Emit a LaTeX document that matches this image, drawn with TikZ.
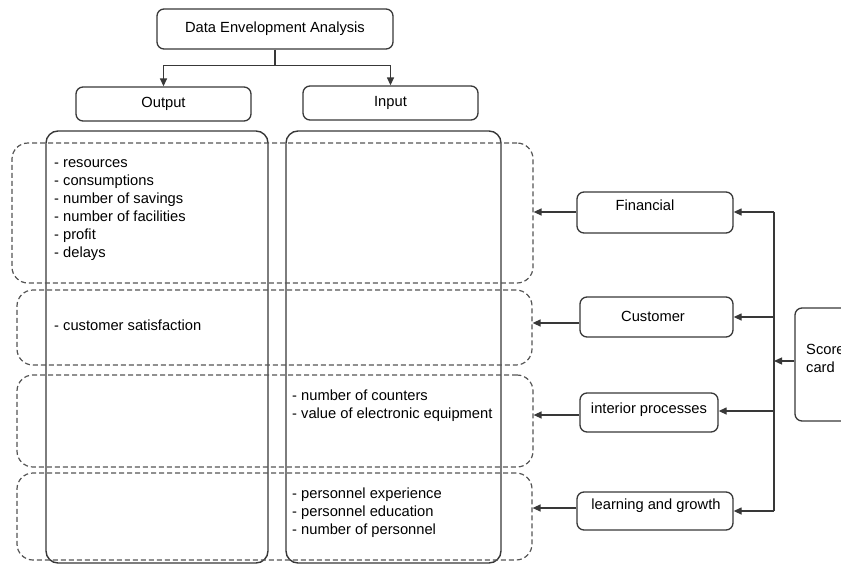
\documentclass[tikz,border=0pt]{standalone}
\usepackage{fontspec}
\setmainfont{Liberation Sans}
\usetikzlibrary{arrows.meta}
\definecolor{linec}{HTML}{383838}
\definecolor{dashc}{HTML}{555555}
\begin{document}
\begin{tikzpicture}[x=1pt,y=-1pt,
  box/.style={draw=linec, line width=1.3pt, rounded corners=7pt, inner sep=0pt},
  col/.style={draw=linec, line width=1.4pt, rounded corners=12pt, inner sep=0pt},
  rowbox/.style={draw=dashc, line width=1.2pt, dash pattern=on 5pt off 3pt, rounded corners=16pt, inner sep=0pt},
  lbl/.style={font=\fontsize{14.7}{18}\selectfont, inner sep=0pt},
  lst/.style={lbl, align=left, anchor=base west},
  conn/.style={draw=linec, line width=1.3pt},
  arr/.style={conn, -{Triangle[length=8pt,width=7pt]}}
]
\useasboundingbox (0,0) rectangle (841,565);

% header boxes
\node[box, minimum width=236pt, minimum height=40pt, lbl] (dea) at (275,29) {Data Envelopment Analysis};
\node[box, minimum width=175pt, minimum height=34pt, lbl] (out) at (163.5,104) {Output};
\node[box, minimum width=175pt, minimum height=34pt, lbl] (inp) at (390.5,103) {Input};

\draw[conn] (dea.south) -- ++(0,16) coordinate (split);
\draw[arr] (split) -| (out.north);
\draw[arr] (split) -| (inp.north);

% output / input columns
\node[col, minimum width=222pt, minimum height=432pt] (outcol) at (157,347) {};
\node[col, minimum width=215pt, minimum height=432pt] (incol) at (393.5,347) {};

% perspective rows
\node[rowbox, minimum width=521pt, minimum height=140pt] (row1) at (272.5,213) {};
\node[rowbox, minimum width=515pt, minimum height=75pt] (row2) at (274.5,327.5) {};
\node[rowbox, minimum width=516pt, minimum height=92pt] (row3) at (275,421) {};
\node[rowbox, minimum width=515pt, minimum height=87pt] (row4) at (274.5,516.5) {};

% indicator lists (anchored at the baseline of their last line)
\node[lst] (l1) at (54,257) {- resources\\- consumptions\\- number of savings\\- number of facilities\\- profit\\- delays};
\node[lst] (l2) at (54,330) {- customer satisfaction};
\node[lst] (l3) at (292,418) {- number of counters\\- value of electronic equipment};
\node[lst] (l4) at (292,534) {- personnel experience\\- personnel education\\- number of personnel};

% scorecard perspectives
\node[box, minimum width=156pt, minimum height=41pt] (fin) at (655,212.5) {};
\node[lbl] (fint) at (645,205) {Financial};
\node[box, minimum width=153pt, minimum height=40pt] (cus) at (656.5,317) {};
\node[lbl] (cust) at (653,316) {Customer};
\node[box, minimum width=138pt, minimum height=39pt] (pro) at (649,412.5) {};
\node[lbl] (prot) at (649,410) {interior processes};
\node[box, minimum width=156pt, minimum height=38pt] (lea) at (655,511) {};
\node[lbl] (leat) at (656,506) {learning and growth};

\node[box, minimum width=90pt, minimum height=113pt] (sc) at (840,364.5) {};
\node[lst] (sct) at (806,372) {Score\\card};

% distribution bus
\coordinate (bustop) at (774,212);
\coordinate (busbot) at (774,511);
\draw[conn] (bustop) -- (busbot);
\draw[arr] (sc.west |- 0,361) -- (774,361);
\draw[arr] (bustop) -- (fin.east |- bustop);
\draw[arr] (774,317) -- (cus.east);
\draw[arr] (774,411) -- (pro.east |- 0,411);
\draw[arr] (busbot) -- (lea.east);

% links into the rows
\draw[arr] (fin.west |- 0,212) -- (row1.east |- 0,212);
\draw[arr] (cus.west |- 0,323) -- (row2.east |- 0,323);
\draw[arr] (pro.west |- 0,415) -- (row3.east |- 0,415);
\draw[arr] (lea.west |- 0,508) -- (row4.east |- 0,508);
\end{tikzpicture}
\end{document}
